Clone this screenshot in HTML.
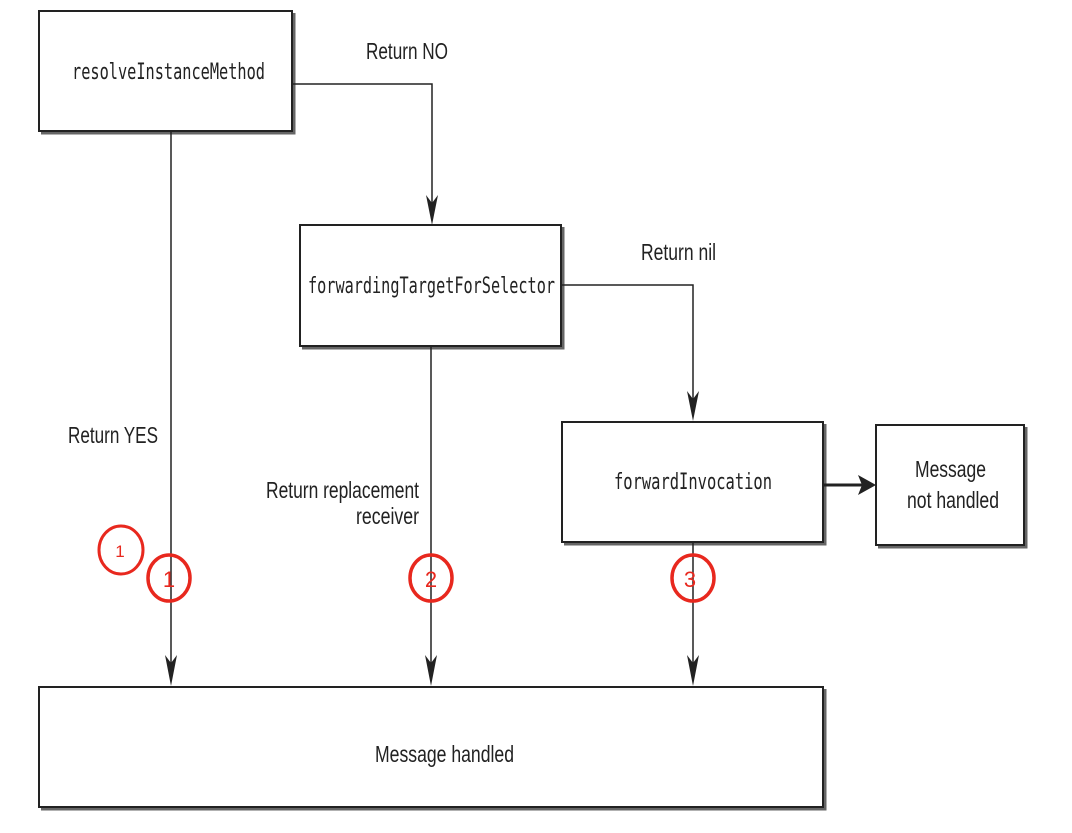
<!DOCTYPE html>
<html><head><meta charset="utf-8"><style>html,body{margin:0;padding:0;background:#fff}</style></head>
<body>
<svg width="1072" height="828" viewBox="0 0 1072 828" xmlns="http://www.w3.org/2000/svg">
<g stroke="#666" stroke-width="3" fill="none">
<path d="M41 133 H294 V13"/>
<path d="M302 348 H563 V227"/>
<path d="M564 544 H825 V424"/>
<path d="M878 547 H1026 V427"/>
<path d="M41 809 H825 V689"/>
</g>
<g fill="#fff" stroke="#222" stroke-width="2">
<rect x="39" y="11" width="253" height="120"/>
<rect x="300" y="225" width="261" height="121"/>
<rect x="562" y="422" width="261" height="120"/>
<rect x="876" y="425" width="148" height="120"/>
<rect x="39" y="687" width="784" height="120"/>
</g>
<g stroke="#222" stroke-width="1.5" fill="none">
<line x1="171" y1="131" x2="171" y2="672"/>
<path d="M292 84 H432 V212"/>
<line x1="431" y1="346" x2="431" y2="672"/>
<path d="M561 285 H693 V408"/>
<line x1="693" y1="542" x2="693" y2="672"/>
<line x1="823" y1="485" x2="862" y2="485" stroke-width="3"/>
</g>
<g fill="#222">
<path d="M165 655 L171 686 L177 655 L171 663Z"/>
<path d="M425 655 L431 686 L437 655 L431 663Z"/>
<path d="M687 655 L693 686 L699 655 L693 663Z"/>
<path d="M426 195 L432 225 L438 195 L432 203Z"/>
<path d="M687 391 L693 421 L699 391 L693 399Z"/>
<path d="M858 475 L876 485 L858 495 L862 485Z"/>
</g>
<g font-family="'DejaVu Sans Mono','Liberation Mono',monospace" font-size="22" fill="#222">
<text x="72" y="79" textLength="193" lengthAdjust="spacingAndGlyphs">resolveInstanceMethod</text>
<text x="308" y="293" textLength="247" lengthAdjust="spacingAndGlyphs">forwardingTargetForSelector</text>
<text x="614" y="489" textLength="158" lengthAdjust="spacingAndGlyphs">forwardInvocation</text>
</g>
<g font-family="'Liberation Sans',sans-serif" font-size="23" fill="#222">
<text x="366" y="59" textLength="82" lengthAdjust="spacingAndGlyphs">Return NO</text>
<text x="641" y="260" textLength="75" lengthAdjust="spacingAndGlyphs">Return nil</text>
<text x="68" y="443" textLength="90" lengthAdjust="spacingAndGlyphs">Return YES</text>
<text x="266" y="498" textLength="153" lengthAdjust="spacingAndGlyphs">Return replacement</text>
<text x="356" y="524" textLength="63" lengthAdjust="spacingAndGlyphs">receiver</text>
<text x="915" y="477" textLength="71" lengthAdjust="spacingAndGlyphs">Message</text>
<text x="907" y="508" textLength="92" lengthAdjust="spacingAndGlyphs">not handled</text>
<text x="375" y="762" textLength="139" lengthAdjust="spacingAndGlyphs">Message handled</text>
</g>
<g fill="none" stroke="#e8281e">
<ellipse cx="121" cy="550" rx="22" ry="24" stroke-width="3"/>
<ellipse cx="169" cy="578" rx="21" ry="23" stroke-width="3.5"/>
<ellipse cx="431" cy="578" rx="21" ry="23" stroke-width="3.5"/>
<ellipse cx="693" cy="578" rx="21" ry="23" stroke-width="3.5"/>
</g>
<g font-family="'Liberation Sans',sans-serif" fill="#e8281e" text-anchor="middle">
<text x="120" y="557" font-size="17">1</text>
<text x="169" y="587" font-size="22">1</text>
<text x="431" y="587" font-size="22">2</text>
<text x="690" y="587" font-size="22">3</text>
</g>
</svg>
</body></html>
